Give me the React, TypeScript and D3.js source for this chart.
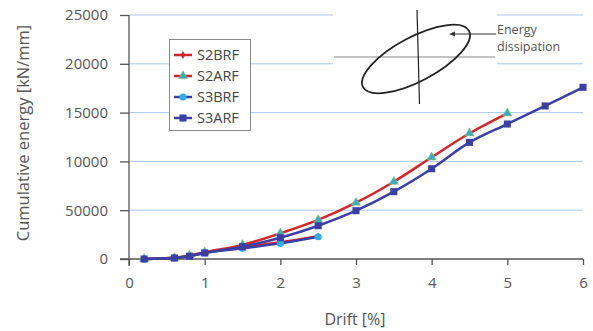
import { useEffect, useRef } from 'react';
import * as d3 from 'd3';

// Drift [%] values where each series was sampled
const driftS2A = [0.2, 0.6, 0.8, 1.0, 1.5, 2.0, 2.5, 3.0, 3.5, 4.0, 4.5, 5.0];
const driftS3A = [0.2, 0.6, 0.8, 1.0, 1.5, 2.0, 2.5, 3.0, 3.5, 4.0, 4.5, 5.0, 5.5, 6.0];
const driftB = [0.2, 0.6, 0.8, 1.0, 1.5, 2.0, 2.5];

// Cumulative energy [kN/mm]
const s2brf = [0, 120, 330, 680, 1180, 1720, 2320];
const s2arf = [0, 120, 350, 700, 1450, 2630, 4000, 5770, 7920, 10420, 12880, 14930];
const s3brf = [0, 110, 300, 620, 1090, 1600, 2280];
const s3arf = [0, 100, 280, 620, 1260, 2180, 3410, 4950, 6900, 9250, 11950, 13830, 15680, 17590];

const xTicks = [0, 1, 2, 3, 4, 5, 6];
const yTicks = [0, 5000, 10000, 15000, 20000, 25000];
const yTickLabels = ['0', '50000', '10000', '15000', '20000', '25000'];

const FONT = '"Open Sans", sans-serif';
const RED = '#d0262c';
const BLUE = '#3b3ea2';
const CYAN = '#2eaee3';
const TEAL = '#3aabc0';

type Series = {
  name: string;
  x: number[];
  y: number[];
  line: string;
  marker: 'diamond' | 'triangle' | 'circle' | 'square';
  fill: string;
};

const series: Series[] = [
  { name: 'S2BRF', x: driftB, y: s2brf, line: RED, marker: 'diamond', fill: RED },
  { name: 'S2ARF', x: driftS2A, y: s2arf, line: RED, marker: 'triangle', fill: TEAL },
  { name: 'S3BRF', x: driftB, y: s3brf, line: BLUE, marker: 'circle', fill: CYAN },
  { name: 'S3ARF', x: driftS3A, y: s3arf, line: BLUE, marker: 'square', fill: BLUE },
];

const symbolFor = (m: Series['marker']) => {
  switch (m) {
    case 'diamond':
      return d3.symbol(d3.symbolDiamond, 18)();
    case 'triangle':
      return d3.symbol(d3.symbolTriangle, 36)();
    case 'circle':
      return d3.symbol(d3.symbolCircle, 40)();
    default:
      return d3.symbol(d3.symbolSquare, 50)();
  }
};

export default function App() {
  const svgRef = useRef<SVGSVGElement>(null);
  const width = 593;
  const height = 331;

  useEffect(() => {
    if (!svgRef.current) return;
    const svg = d3.select(svgRef.current);
    svg.selectAll('*').remove();

    const x = d3.scaleLinear().domain([0, 6]).range([129, 583]);
    const y = d3.scaleLinear().domain([0, 25000]).range([259, 15]);

    // grid lines
    svg
      .append('g')
      .selectAll('line')
      .data(yTicks.slice(1))
      .enter()
      .append('line')
      .attr('x1', 129)
      .attr('x2', 583)
      .attr('y1', (d) => y(d))
      .attr('y2', (d) => y(d))
      .attr('stroke', '#a9c8ee')
      .attr('stroke-width', 1);

    // y axis
    const yAxis = svg
      .append('g')
      .attr('transform', 'translate(129,0)')
      .call(
        d3
          .axisLeft(y)
          .tickValues(yTicks)
          .tickSize(9)
          .tickPadding(12)
          .tickFormat((_, i) => yTickLabels[i])
      );
    yAxis.select('.domain').attr('d', 'M0,15V266').attr('stroke', '#555').attr('stroke-width', 1.3);
    yAxis.selectAll('.tick line').attr('stroke', '#555').attr('stroke-width', 1.3);
    yAxis
      .selectAll('.tick text')
      .attr('fill', '#555')
      .attr('font-size', 15)
      .attr('font-family', FONT);

    // x axis
    const xAxis = svg
      .append('g')
      .attr('transform', 'translate(0,259)')
      .call(d3.axisBottom(x).tickValues(xTicks).tickSize(6).tickPadding(12).tickFormat(d3.format('d')));
    xAxis.select('.domain').attr('d', 'M120,0H583').attr('stroke', '#555').attr('stroke-width', 1.3);
    xAxis.selectAll('.tick line').attr('stroke', '#555').attr('stroke-width', 1.3);
    xAxis
      .selectAll('.tick text')
      .attr('fill', '#555')
      .attr('font-size', 15)
      .attr('font-family', FONT);

    // axis titles
    svg
      .append('text')
      .attr('x', 355)
      .attr('y', 325)
      .attr('text-anchor', 'middle')
      .attr('font-family', FONT)
      .attr('font-size', 16)
      .attr('fill', '#555')
      .text('Drift [%]');
    svg
      .append('text')
      .attr('transform', 'translate(29,133) rotate(-90)')
      .attr('text-anchor', 'middle')
      .attr('font-family', FONT)
      .attr('font-size', 16.5)
      .attr('fill', '#555')
      .text('Cumulative energy [kN/mm]');

    // annotation sketch (white backdrop hides grid)
    const ann = svg.append('g');
    ann.append('rect').attr('x', 333).attr('y', 0).attr('width', 164).attr('height', 106).attr('fill', '#fff');
    ann
      .append('line')
      .attr('x1', 334)
      .attr('x2', 495)
      .attr('y1', 57)
      .attr('y2', 57)
      .attr('stroke', '#888')
      .attr('stroke-width', 1.2);
    ann
      .append('line')
      .attr('x1', 417)
      .attr('x2', 419.5)
      .attr('y1', 10)
      .attr('y2', 104)
      .attr('stroke', '#222')
      .attr('stroke-width', 1.2);
    ann
      .append('ellipse')
      .attr('cx', 416)
      .attr('cy', 59)
      .attr('rx', 60)
      .attr('ry', 22)
      .attr('transform', 'rotate(-28,416,59)')
      .attr('fill', 'none')
      .attr('stroke', '#222')
      .attr('stroke-width', 1.8);
    ann
      .append('line')
      .attr('x1', 453)
      .attr('x2', 496)
      .attr('y1', 34)
      .attr('y2', 34)
      .attr('stroke', '#333')
      .attr('stroke-width', 1.2);
    ann
      .append('path')
      .attr('d', 'M449,34L455,31.5L455,36.5Z')
      .attr('fill', '#333');
    ann
      .append('text')
      .attr('x', 497)
      .attr('y', 34)
      .attr('font-family', FONT)
      .attr('font-size', 12.5)
      .attr('fill', '#555')
      .text('Energy');
    ann
      .append('text')
      .attr('x', 497)
      .attr('y', 51)
      .attr('font-family', FONT)
      .attr('font-size', 12.5)
      .attr('fill', '#555')
      .text('dissipation');

    // series lines & markers
    const lineGen = d3
      .line<[number, number]>()
      .x((d) => x(d[0]))
      .y((d) => y(d[1]))
      .curve(d3.curveCatmullRom.alpha(0.5));

    series.forEach((s) => {
      const pts = s.x.map((d, i) => [d, s.y[i]] as [number, number]);
      svg
        .append('path')
        .datum(pts)
        .attr('d', lineGen)
        .attr('fill', 'none')
        .attr('stroke', s.line)
        .attr('stroke-width', 2.5);
      svg
        .append('g')
        .selectAll('path')
        .data(pts)
        .enter()
        .append('path')
        .attr('d', symbolFor(s.marker))
        .attr('transform', (d) => `translate(${x(d[0])},${y(d[1])})`)
        .attr('fill', s.fill)
        .attr('stroke', s.marker === 'triangle' ? '#8fc56a' : 'none')
        .attr('stroke-width', 0.6);
    });

    // legend
    const lg = svg.append('g');
    lg.append('rect')
      .attr('x', 169.5)
      .attr('y', 39.5)
      .attr('width', 81)
      .attr('height', 91)
      .attr('fill', '#fff')
      .attr('stroke', '#888')
      .attr('stroke-width', 1);
    series.forEach((s, i) => {
      const cy = 55 + i * 21;
      lg.append('line')
        .attr('x1', 174)
        .attr('x2', 192)
        .attr('y1', cy)
        .attr('y2', cy)
        .attr('stroke', s.line)
        .attr('stroke-width', 2.5);
      lg.append('path')
        .attr('d', symbolFor(s.marker))
        .attr('transform', `translate(183,${cy})`)
        .attr('fill', s.fill)
        .attr('stroke', s.marker === 'triangle' ? '#8fc56a' : 'none')
        .attr('stroke-width', 0.6);
      lg.append('text')
        .attr('x', 197)
        .attr('y', cy + 5)
        .attr('font-family', FONT)
        .attr('font-size', 14.5)
        .attr('fill', '#444')
        .text(s.name);
    });
  }, []);

  return (
    <svg
      ref={svgRef}
      width={width}
      height={height}
      style={{ position: 'absolute', left: 0, top: 0, background: '#fff' }}
    />
  );
}
